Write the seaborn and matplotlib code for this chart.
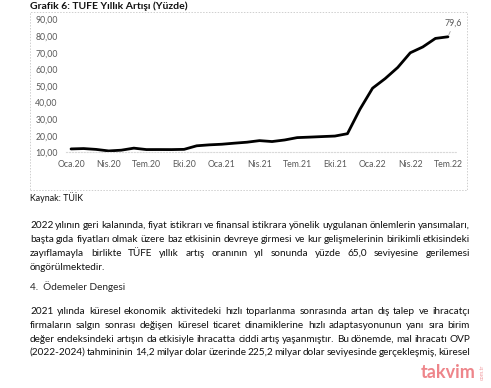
import matplotlib
matplotlib.use("Agg")
import numpy as np
import pandas as pd
import seaborn as sns
import matplotlib.pyplot as plt
from matplotlib.patches import Rectangle

# --- data (TUFE yillik artis, %) ---
month_labels = ["Oca.20", "Nis.20", "Tem.20", "Eki.20", "Oca.21", "Nis.21",
                "Tem.21", "Eki.21", "Oca.22", "Nis.22", "Tem.22"]
tufe = [12.15, 12.37, 11.86, 10.94, 11.39, 12.62, 11.76, 11.77, 11.75, 11.89, 14.03, 14.60,
        14.97, 15.61, 16.19, 17.14, 16.59, 17.53, 18.95, 19.25, 19.58, 19.89, 21.31, 36.08,
        48.69, 54.44, 61.14, 69.97, 73.50, 78.62, 79.60]
y_ticks = [10, 20, 30, 40, 50, 60, 70, 80, 90]

title = "Grafik 6: TUFE Yıllık Artışı (Yüzde)"
source = "Kaynak: TÜİK"
para1 = [
    "2022 yılının geri kalanında, fiyat istikrarı ve finansal istikrara yönelik uygulanan önlemlerin yansımaları,",
    "başta gıda fiyatları olmak üzere baz etkisinin devreye girmesi ve kur gelişmelerinin birikimli etkisindeki",
    "zayıflamayla birlikte TÜFE yıllık artış oranının yıl sonunda yüzde 65,0 seviyesine gerilemesi",
    "öngörülmektedir.",
]
heading = "4.  Ödemeler Dengesi"
para2 = [
    "2021 yılında küresel ekonomik aktivitedeki hızlı toparlanma sonrasında artan dış talep ve ihracatçı",
    "firmaların salgın sonrası değişen küresel ticaret dinamiklerine hızlı adaptasyonunun yanı sıra birim",
    "değer endeksindeki artışın da etkisiyle ihracatta ciddi artış yaşanmıştır. Bu dönemde, mal ihracatı OVP",
    "(2022-2024) tahmininin 14,2 milyar dolar üzerinde 225,2 milyar dolar seviyesinde gerçekleşmiş, küresel",
]

df = pd.DataFrame({"ay": np.arange(len(tufe)), "tufe": tufe})

sns.set_style("white")
plt.rcParams['font.family'] = ['Lato', 'DejaVu Sans']

W, H = 491, 388
fig = plt.figure(figsize=(W / 100, H / 100), dpi=100)

def fx(px):
    return px / W

def fy(py):
    return 1 - py / H

# chart area
ax = fig.add_axes([fx(66), fy(152.5), fx(455.5) - fx(66), fy(19.5) - fy(152.5)])
sns.lineplot(data=df, x="ay", y="tufe", ax=ax, color="black", linewidth=2.0)
ax.set_xlim(-0.4, 30.6)
ax.set_ylim(10, 90)
ax.set_xticks(np.arange(0, len(tufe), 3))
ax.set_xticklabels(month_labels)
ax.set_yticks(y_ticks)
ax.set_yticklabels([f"{v:.2f}".replace(".", ",") for v in y_ticks])
ax.tick_params(axis='both', length=0, labelsize=6.3, labelcolor='#595959')
ax.tick_params(axis='x', pad=5.5)
ax.tick_params(axis='y', pad=6)
ax.set_xlabel('')
ax.set_ylabel('')
ax.spines[['left', 'right', 'top']].set_visible(False)
ax.spines['bottom'].set_color('#d9d9d9')
ax.spines['bottom'].set_linestyle(':')
ax.spines['bottom'].set_linewidth(0.8)
ax.patch.set_alpha(0)

last = len(tufe) - 1
ax.annotate(f"{tufe[last]:.1f}".replace(".", ","), xy=(last, tufe[last]),
            xytext=(last + 0.45, tufe[last] + 5.2), fontsize=6.3, color='#595959',
            ha='center', va='bottom',
            arrowprops=dict(arrowstyle='-', color='#a6a6a6', lw=0.6, shrinkA=0, shrinkB=1))

# chart frame
fig.patches.append(Rectangle((fx(30), fy(190)), fx(467) - fx(30), fy(12) - fy(190),
                             transform=fig.transFigure, fill=False, edgecolor='#cfcfcf',
                             linestyle=(0, (1.5, 1.5)), linewidth=0.7))

fig.text(fx(30), fy(1), title, fontsize=7.5, fontweight='bold', color='#111111',
         ha='left', va='top')
fig.text(fx(30), fy(198), source, fontsize=6.4, color='#111111', ha='left', va='center')

# justified body text
X0, X1 = 30, 470
BODY = dict(fontsize=7.2, color='#111111', va='center')
renderer = fig.canvas.get_renderer()


def put_line(y_px, line, justify=True):
    words = line.split(' ')
    objs = [fig.text(0, fy(y_px), w, ha='left', **BODY) for w in words]
    widths = [o.get_window_extent(renderer).width for o in objs]
    if justify and len(words) > 1:
        gap = (X1 - X0 - sum(widths)) / (len(words) - 1)
    else:
        gap = 2.2
    x = X0
    for o, w in zip(objs, widths):
        o.set_x(fx(x))
        x += w + gap


p1_y = [225, 239, 253, 267]
for i, (yy, line) in enumerate(zip(p1_y, para1)):
    put_line(yy, line, justify=(i < len(para1) - 1))

fig.text(fx(30), fy(287), heading, fontsize=7.2, color='#262626', ha='left', va='center')

p2_y = [312, 325.5, 339, 352.5]
for yy, line in zip(p2_y, para2):
    put_line(yy, line, justify=True)

# watermark
fig.text(fx(448), fy(373), "takvim", fontsize=13, fontweight='bold', color='#e0212b',
         alpha=0.55, ha='center', va='center')
fig.text(fx(482), fy(372), "com.tr", fontsize=4, color='#e0212b', alpha=0.45,
         rotation=90, ha='center', va='center')

fig.savefig("out.png", dpi=100)
